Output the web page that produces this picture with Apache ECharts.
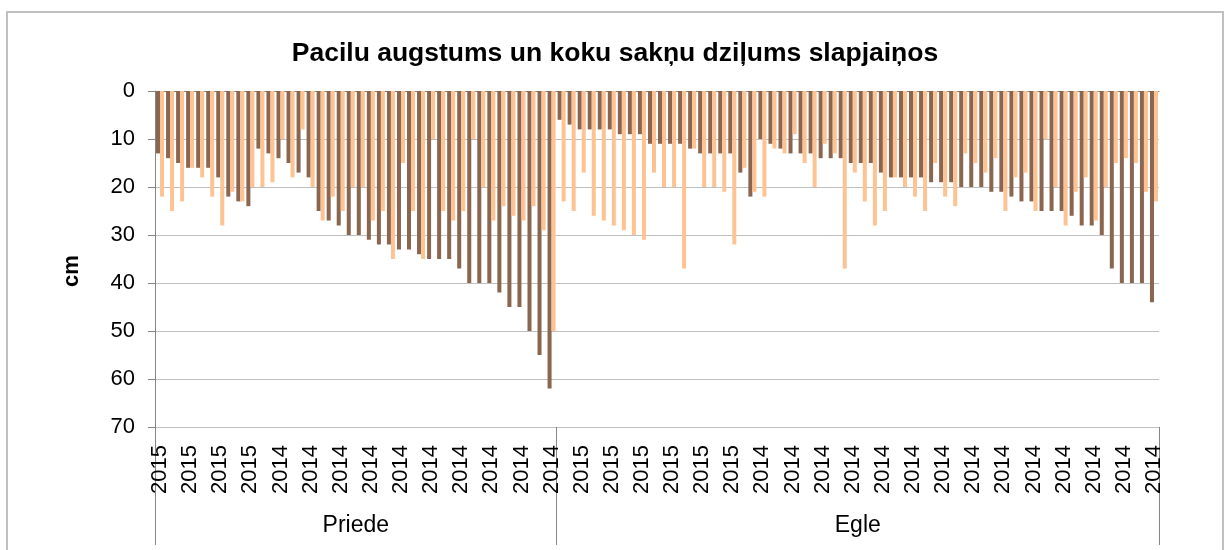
<!DOCTYPE html>
<html>
<head>
<meta charset="utf-8">
<title>Pacilu augstums un koku sakņu dziļums slapjaiņos</title>
<script src="https://cdn.jsdelivr.net/npm/echarts@6/dist/echarts.min.js"></script>
<style>
    html, body {
        margin: 0;
        padding: 0;
        background: #fff;
    }

    #chart {
        width: 1230px;
        height: 550px;
    }

    .frame {
        position: absolute;
        left: 6px;
        top: 11px;
        width: 1214px;
        height: 545px;
        border: 2px solid #c0c0c0;
        pointer-events: none;
    }
</style>
</head>
<body>
<div id="chart"></div>
<div class="frame"></div>
<script>
    // grupas (koku suga) un to robežas kategoriju skaitā
    const groups = ["Priede", "Egle"]
    const groupSizes = [40, 60]

    // gadu secība katrā grupā: [gads, kategoriju skaits]
    const yearRuns = [["2015", 10], ["2014", 30], ["2015", 20], ["2014", 40]]

    // pacilu augstums (tumšie stabiņi), cm
    const pacilas = [
        13, 14, 15, 16, 16, 16, 18, 22, 23, 24,
        12, 13, 14, 15, 17, 18, 25, 27, 28, 30,
        30, 31, 32, 32, 33, 33, 34, 35, 35, 35,
        37, 40, 40, 40, 42, 45, 45, 50, 55, 62,
        6, 7, 8, 8, 8, 8, 9, 9, 9, 11,
        11, 11, 11, 12, 13, 13, 13, 13, 17, 22,
        10, 11, 12, 13, 13, 13, 14, 14, 14, 15,
        15, 15, 17, 18, 18, 18, 18, 19, 19, 19,
        20, 20, 20, 21, 21, 22, 23, 23, 25, 25,
        25, 26, 28, 28, 30, 37, 40, 40, 40, 44
    ]

    // koku sakņu dziļums (gaišie stabiņi), cm
    const saknes = [
        22, 25, 23, 16, 18, 22, 28, 21, 23, 20,
        20, 19, 10, 18, 8, 20, 27, 22, 25, 20,
        20, 27, 25, 35, 15, 25, 35, 10, 25, 27,
        25, 10, 20, 27, 24, 26, 27, 24, 29, 50,
        23, 25, 17, 26, 27, 28, 29, 30, 31, 17,
        20, 20, 37, 12, 20, 20, 21, 32, 16, 21,
        22, 12, 13, 9, 15, 20, 11, 13, 37, 17,
        23, 28, 25, 18, 20, 22, 25, 15, 22, 24,
        13, 15, 17, 14, 25, 18, 17, 25, 10, 20,
        28, 21, 18, 27, 20, 15, 14, 15, 21, 23
    ]

    const years = []
    yearRuns.forEach(([y, n]) => {
        for (let i = 0; i < n; i++) years.push(y)
    })

    // grupu robežas un viduspunkti uz 0..100 skalas
    const bounds = [0]
    groupSizes.forEach(n => bounds.push(bounds[bounds.length - 1] + n))
    const centers = groupSizes.map((n, i) => bounds[i] + n / 2)

    const font = "Liberation Sans, Arial, sans-serif"

    let myChart = echarts.init(document.getElementById("chart"))
    myChart.setOption({
        animation: false,
        title: {
            text: "Pacilu augstums un koku sakņu dziļums slapjaiņos",
            left: "center",
            top: 35,
            textStyle: {
                fontFamily: font,
                fontSize: 26.5,
                fontWeight: "bold",
                color: "#000"
            }
        },
        grid: {
            left: 155,
            top: 91,
            width: 1004,
            height: 336
        },
        xAxis: [
            {
                // augšējā ass ar iekšējām atzīmēm
                type: "category",
                position: "top",
                data: years,
                axisLine: { lineStyle: { color: "#868686", width: 1 } },
                axisTick: { inside: true, length: 7, interval: 0, lineStyle: { color: "#868686" } },
                axisLabel: { show: false },
                splitLine: { show: false }
            },
            {
                // gadu etiķetes apakšā
                type: "category",
                position: "bottom",
                data: years,
                axisLine: { show: false },
                axisTick: { length: 70, interval: 0, lineStyle: { color: "#a6a6a6" } },
                axisLabel: {
                    interval: 2,
                    rotate: 90,
                    margin: 18,
                    fontFamily: font,
                    fontSize: 22,
                    color: "#000"
                },
                splitLine: { show: false }
            },
            {
                // grupu nosaukumi
                type: "value",
                position: "bottom",
                min: 0,
                max: bounds[bounds.length - 1],
                axisLine: { show: false },
                axisTick: {
                    show: true,
                    length: 118,
                    customValues: bounds,
                    lineStyle: { color: "#868686" }
                },
                axisLabel: {
                    customValues: centers,
                    formatter: v => groups[centers.indexOf(v)] || "",
                    margin: 87,
                    fontFamily: font,
                    fontSize: 23,
                    color: "#000"
                },
                splitLine: { show: false }
            }
        ],
        yAxis: {
            type: "value",
            inverse: true,
            min: 0,
            max: 70,
            interval: 10,
            name: "cm",
            nameLocation: "middle",
            nameGap: 72,
            nameTextStyle: {
                fontFamily: font,
                fontSize: 22,
                fontWeight: "bold",
                color: "#000",
                padding: [0, 24, 0, 0]
            },
            axisLine: { show: true, lineStyle: { color: "#868686" } },
            axisTick: { show: true, length: 7, lineStyle: { color: "#868686" } },
            axisLabel: {
                margin: 20,
                fontFamily: font,
                fontSize: 22,
                color: "#000"
            },
            splitLine: { lineStyle: { color: "#bfbfbf" } }
        },
        series: [
            {
                name: "Pacilu augstums",
                type: "bar",
                xAxisIndex: 0,
                data: pacilas,
                barGap: "0%",
                barCategoryGap: "20%",
                itemStyle: { color: "#8a6650" }
            },
            {
                name: "Sakņu dziļums",
                type: "bar",
                xAxisIndex: 0,
                data: saknes,
                itemStyle: { color: "#fdc393" }
            }
        ]
    })
</script>
</body>
</html>
